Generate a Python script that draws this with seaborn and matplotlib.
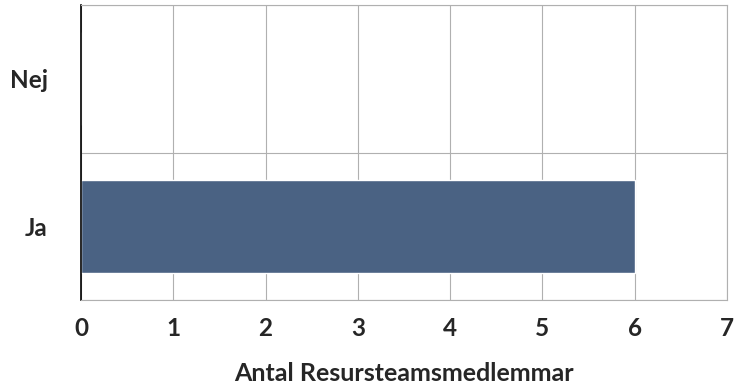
import matplotlib
matplotlib.use("Agg")
import matplotlib.pyplot as plt
import matplotlib.patheffects as pe
import seaborn as sns
import pandas as pd

categories = ["Nej", "Ja"]
values = [0, 6]
x_ticks = [0, 1, 2, 3, 4, 5, 6, 7]
x_label = "Antal Resursteamsmedlemmar"

sns.set_theme(style="white")
plt.rcParams["font.family"] = ["Lato", "DejaVu Sans"]

df = pd.DataFrame({"svar": categories, "antal": values})

fig = plt.figure(figsize=(7.34, 3.85), dpi=100)
ax = fig.add_axes([81 / 734, 85 / 385, 646 / 734, 295 / 385])

sns.barplot(data=df, x="antal", y="svar", order=categories, orient="h",
            color="#4a6283", saturation=1, width=0.63, ax=ax)
for bar in ax.patches:
    bar.set_path_effects([pe.SimplePatchShadow(offset=(1, -1), alpha=0.25), pe.Normal()])

ax.set_xlim(0, 7)
ax.set_ylim(1.5, -0.5)
ax.set_xticks(x_ticks)
ax.set_xticklabels([str(t) for t in x_ticks], fontsize=17.5, fontweight="bold")
ax.set_yticks(range(len(categories)))
ax.set_yticklabels(categories, fontsize=17.5, fontweight="bold")
ax.set_yticks([-0.5, 0.5, 1.5], minor=True)

ax.tick_params(axis="y", which="major", length=0, pad=24)
ax.tick_params(axis="y", which="minor", length=4, width=1, color="black", direction="out")
ax.tick_params(axis="x", which="major", length=0, pad=12)

ax.grid(True, axis="x", which="major", color="#b0b0b0", linewidth=0.8)
ax.grid(True, axis="y", which="minor", color="#b0b0b0", linewidth=0.8)
ax.set_axisbelow(True)

for side in ["top", "right", "bottom"]:
    ax.spines[side].set_color("#b0b0b0")
    ax.spines[side].set_linewidth(0.8)
ax.spines["left"].set_color("black")
ax.spines["left"].set_linewidth(1.2)

ax.set_xlabel(x_label, fontsize=18, fontweight="bold", labelpad=16)
ax.set_ylabel("")

fig.savefig("out.png", dpi=100, facecolor="white")
